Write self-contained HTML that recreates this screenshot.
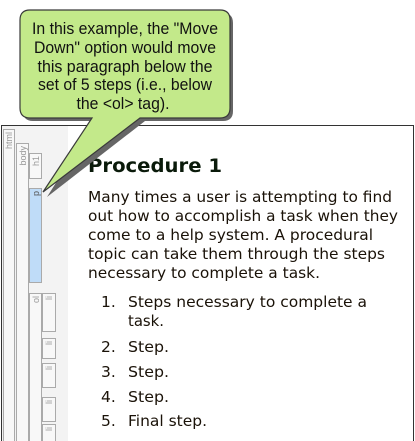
<!DOCTYPE html>
<html><head><meta charset="utf-8"><style>
html,body{margin:0;padding:0;background:#fff;width:415px;height:441px;overflow:hidden}
svg{display:block}
.tag{font-family:"Liberation Sans",sans-serif;font-size:9px;fill:#999}
.body{font-family:"DejaVu Sans",Verdana,sans-serif;font-size:15.5px;fill:#1a1208}
.bub{font-family:"Liberation Sans",Arial,sans-serif;font-size:16.5px;fill:#111}
</style></head><body>
<svg width="415" height="441" viewBox="0 0 415 441">
  <rect x="1.5" y="125.5" width="412" height="320" fill="#fff" stroke="#333"/>
  <rect x="2" y="126" width="66" height="315" fill="#f3f3f3"/>
  <g fill="#f8f8f8" stroke="#aaa">
    <rect x="3.5" y="129.5" width="11" height="320"/>
    <rect x="16.5" y="143.5" width="12" height="310"/>
    <rect x="29.5" y="153.5" width="12" height="25"/>
    <rect x="29.5" y="188.5" width="12" height="94" fill="#bfdcf8"/>
    <rect x="29.5" y="293.5" width="12" height="160"/>
    <rect x="42.5" y="293.5" width="13" height="38"/>
    <rect x="42.5" y="338.5" width="13" height="20"/>
    <rect x="42.5" y="363.5" width="13" height="24"/>
    <rect x="42.5" y="397.5" width="13" height="24"/>
    <rect x="42.5" y="424.5" width="13" height="24"/>
  </g>
  <g class="tag">
    <text transform="translate(12,132) rotate(-90)" text-anchor="end">html</text>
    <text transform="translate(26,146) rotate(-90)" text-anchor="end">body</text>
    <text transform="translate(39,156) rotate(-90)" text-anchor="end">h1</text>
    <text transform="translate(39,191) rotate(-90)" text-anchor="end" fill="#555">p</text>
    <text transform="translate(39,296) rotate(-90)" text-anchor="end">ol</text>
    <text transform="translate(52,296) rotate(-90)" text-anchor="end">li</text>
    <text transform="translate(52,341) rotate(-90)" text-anchor="end">li</text>
    <text transform="translate(52,366) rotate(-90)" text-anchor="end">li</text>
    <text transform="translate(52,400) rotate(-90)" text-anchor="end">li</text>
    <text transform="translate(52,427) rotate(-90)" text-anchor="end">li</text>
  </g>

  <text x="88" y="172" font-family="DejaVu Sans,Verdana,sans-serif" font-weight="bold" font-size="19" fill="#0a1a0a" textLength="134" lengthAdjust="spacingAndGlyphs">Procedure 1</text>
  <g class="body">
    <text x="88" y="202" textLength="304" lengthAdjust="spacingAndGlyphs">Many times a user is attempting to find</text>
    <text x="88" y="221" textLength="310" lengthAdjust="spacingAndGlyphs">out how to accomplish a task when they</text>
    <text x="88" y="240" textLength="285" lengthAdjust="spacingAndGlyphs">come to a help system. A procedural</text>
    <text x="88" y="259" textLength="297" lengthAdjust="spacingAndGlyphs">topic can take them through the steps</text>
    <text x="88" y="278" textLength="232" lengthAdjust="spacingAndGlyphs">necessary to complete a task.</text>
  </g>
  <g class="body">
    <text x="101" y="307">1.</text>
    <text x="128" y="307" textLength="239" lengthAdjust="spacingAndGlyphs">Steps necessary to complete a</text>
    <text x="128" y="326" textLength="36" lengthAdjust="spacingAndGlyphs">task.</text>
    <text x="101" y="352">2.</text><text x="128" y="352" textLength="41" lengthAdjust="spacingAndGlyphs">Step.</text>
    <text x="101" y="377">3.</text><text x="128" y="377" textLength="41" lengthAdjust="spacingAndGlyphs">Step.</text>
    <text x="101" y="402">4.</text><text x="128" y="402" textLength="41" lengthAdjust="spacingAndGlyphs">Step.</text>
    <text x="101" y="426">5.</text><text x="128" y="426" textLength="79" lengthAdjust="spacingAndGlyphs">Final step.</text>
  </g>

  <g>
    <path d="M33,13 H223 Q233,13 233,23 V111 Q233,121 223,121 H145 L47,197 L95,121 H33 Q23,121 23,111 V23 Q23,13 33,13 Z" fill="#666"/>
    <path d="M30,10 H220 Q230,10 230,20 V108 Q230,118 220,118 H140 L43,192 L92,118 H30 Q20,118 20,108 V20 Q20,10 30,10 Z" fill="#c3e98a" stroke="#3a3a3a" stroke-width="1.2"/>
    <g class="bub" text-anchor="middle">
      <text x="125" y="34" textLength="186" lengthAdjust="spacingAndGlyphs">In this example, the "Move</text>
      <text x="125" y="53" textLength="182" lengthAdjust="spacingAndGlyphs">Down" option would move</text>
      <text x="125" y="72" textLength="175" lengthAdjust="spacingAndGlyphs">this paragraph below the</text>
      <text x="125" y="90" textLength="174" lengthAdjust="spacingAndGlyphs">set of 5 steps (i.e., below</text>
      <text x="123" y="109" textLength="93" lengthAdjust="spacingAndGlyphs">the &lt;ol&gt; tag).</text>
    </g>
  </g>
</svg>
</body></html>
